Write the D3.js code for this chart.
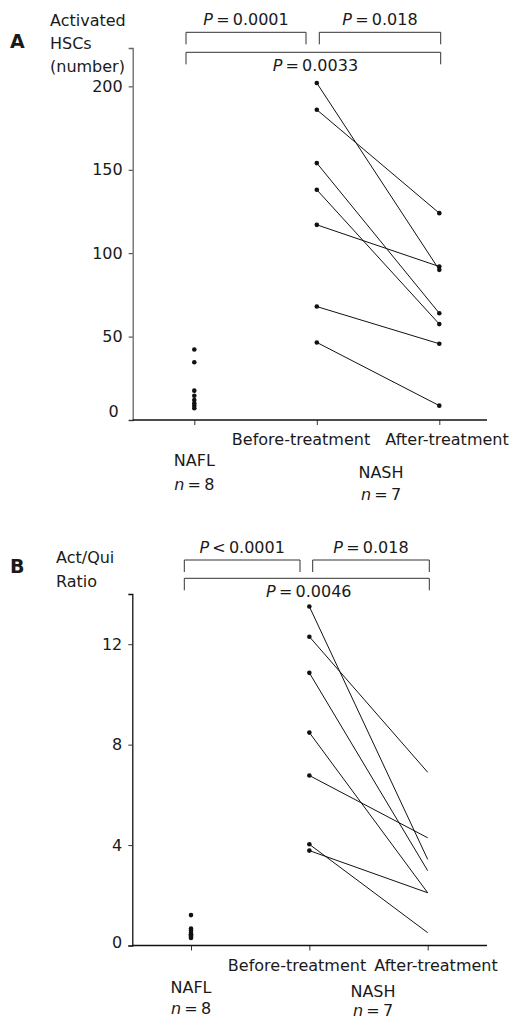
<!DOCTYPE html>
<html>
<head>
<meta charset="utf-8">
<script src="https://cdn.jsdelivr.net/npm/d3@7"></script>
<style>
  body { margin: 0; background: #fff; }
  svg text { font-family: "DejaVu Sans", sans-serif; fill: #1a1a1a; }
</style>
</head>
<body>
<svg id="chart" width="512" height="1021"></svg>
<script>
// groups on the x axis
const groups = ["NAFL", "Before", "After"];

// panel A : activated HSCs (number)
const naflA = [42.3, 34.6, 17.6, 14.5, 12, 10, 8.5, 7];
const beforeA = [202, 186, 154, 138, 117, 68, 46.5];
const afterA = [90, 124, 64, 57.5, 92, 45.7, 8.6];
const ticksA = [0, 50, 100, 150, 200];

// panel B : Act/Qui ratio
const naflB = [1.21, 0.68, 0.6, 0.5, 0.45, 0.4, 0.35, 0.3];
const beforeB = [13.5, 12.3, 10.86, 8.48, 6.77, 4.03, 3.78];
const afterB = [3.43, 6.9, 2.98, 2.1, 4.29, 0.51, 2.1];
const ticksB = [0, 4, 8, 12];

const FS = "16px";
const svg = d3.select("#chart");

function pText(g, x, y, sym, rest) {
    let t = g.append("text").attr("x", x).attr("y", y)
        .attr("text-anchor", "middle").style("font-size", FS);
    t.append("tspan").style("font-style", "italic").text(sym);
    t.append("tspan").text(rest);
    return t;
}

function bracket(g, x1, x2, y, h) {
    g.append("path")
        .attr("d", `M${x1},${y + h}V${y}H${x2}V${y + h}`)
        .attr("fill", "none").attr("stroke", "#333").attr("stroke-width", 1);
}

function drawPanel(opt) {
    let g = svg.append("g");
    let x = d3.scalePoint().domain(groups).range(opt.xr);
    let y = d3.scaleLinear().domain([0, opt.ymax]).range(opt.yr);
    const axX = opt.axisX;

    // y axis
    let yAxis = d3.axisLeft(y).tickValues(opt.ticks).tickSize(4).tickPadding(6);
    let ya = g.append("g").attr("transform", `translate(${axX},0)`).call(yAxis);
    ya.select(".domain").attr("stroke", opt.yColor).attr("stroke-width", 1.3);
    ya.selectAll(".tick line").attr("stroke", "#333");
    ya.selectAll(".tick text").style("font-size", FS).attr("fill", "#1a1a1a")
        .style("font-family", "\"DejaVu Sans\", sans-serif");
    ya.selectAll(".tick").filter(d => d === 0).select("text")
        .attr("dy", opt.zeroDy).attr("x", opt.zeroDx);

    // x axis
    let xAxis = d3.axisBottom(x).tickSize(5).tickFormat("").tickSizeOuter(0);
    let xa = g.append("g").attr("transform", `translate(0,${opt.yr[0]})`).call(xAxis);
    xa.select(".domain").remove();
    xa.selectAll(".tick line").attr("stroke", "#333");
    g.append("line").attr("x1", axX).attr("x2", 487)
        .attr("y1", opt.yr[0]).attr("y2", opt.yr[0])
        .attr("stroke", "#111").attr("stroke-width", 1.3);

    // paired lines
    g.selectAll(".pair").data(opt.before).join("line")
        .attr("x1", x("Before")).attr("y1", d => y(d))
        .attr("x2", x("After")).attr("y2", (d, i) => y(opt.after[i]))
        .attr("stroke", "#111").attr("stroke-width", 1);

    // dots
    g.selectAll(".nafl").data(opt.nafl).join("circle")
        .attr("cx", x("NAFL")).attr("cy", d => y(d)).attr("r", 2.3).attr("fill", "#111");
    g.selectAll(".bef").data(opt.before).join("circle")
        .attr("cx", x("Before")).attr("cy", d => y(d)).attr("r", 2.3).attr("fill", "#111");
    if (opt.afterDots) {
        g.selectAll(".aft").data(opt.after).join("circle")
            .attr("cx", x("After")).attr("cy", d => y(d)).attr("r", 2.3).attr("fill", "#111");
    }

    // category labels
    const base = opt.yr[0];
    g.append("text").attr("x", opt.befX).attr("y", base + opt.l1).attr("text-anchor", "middle")
        .style("font-size", FS).text("Before-treatment");
    g.append("text").attr("x", opt.aftX).attr("y", base + opt.l1).attr("text-anchor", "middle")
        .style("font-size", FS).text("After-treatment");
    g.append("text").attr("x", x("NAFL")).attr("y", base + opt.l2).attr("text-anchor", "middle")
        .style("font-size", FS).text("NAFL");
    pText(g, x("NAFL"), base + opt.l2 + opt.nStep, "n", "\u2009=\u20098");
    g.append("text").attr("x", opt.nashX).attr("y", base + opt.l3).attr("text-anchor", "middle")
        .style("font-size", FS).text("NASH");
    pText(g, opt.nashX, base + opt.l3 + opt.nStep - 2, "n", "\u2009=\u20097");

    // panel letter and y title
    g.append("text").attr("x", 10).attr("y", opt.letterY).style("font-size", "19px")
        .style("font-weight", "bold").text(opt.letter);
    opt.title.forEach((s, i) => {
        g.append("text").attr("x", opt.titleX).attr("y", opt.titleY + i * opt.titleStep)
            .style("font-size", FS).text(s);
    });

    // significance brackets
    const b = opt.br;
    bracket(g, b.x1, b.x2, b.y1, 12);
    bracket(g, b.x3, b.x4, b.y1, 12);
    bracket(g, b.x1, b.x4, b.y2, 12);
    pText(g, (b.x1 + b.x2) / 2, b.y1 - 7, "P", opt.p[0]);
    pText(g, (b.x3 + b.x4) / 2, b.y1 - 7, "P", opt.p[1]);
    pText(g, (b.x1 + b.x4) / 2 + 2, b.y2 + 19, "P", opt.p[2]);
}

drawPanel({
    xr: [194.3, 439.3], yr: [420, 48], ymax: 223, axisX: 132.7, ticks: ticksA,
    yColor: "#666", zeroDy: "-0.2em", zeroDx: -14,
    nafl: naflA, before: beforeA, after: afterA, afterDots: true,
    befX: 301, aftX: 447, nashX: 381, l1: 25, l2: 46, l3: 58, nStep: 24,
    letter: "A", letterY: 48, title: ["Activated", "HSCs", "(number)"],
    titleX: 50, titleY: 26, titleStep: 23,
    br: { x1: 186, x2: 306, x3: 319.3, x4: 440.7, y1: 32.3, y2: 52.3 },
    p: ["\u2009=\u20090.0001", "\u2009=\u20090.018", "\u2009=\u20090.0033"]
});

drawPanel({
    xr: [191, 427.7], yr: [945.5, 594], ymax: 14, axisX: 132.3, ticks: ticksB,
    yColor: "#111", zeroDy: "0.1em", zeroDx: -10,
    nafl: naflB, before: beforeB, after: afterB, afterDots: false,
    befX: 297, aftX: 436, nashX: 373, l1: 25, l2: 47, l3: 51, nStep: 21,
    letter: "B", letterY: 573, title: ["Act/Qui", "Ratio"],
    titleX: 56, titleY: 563, titleStep: 24,
    br: { x1: 184.3, x2: 300, x3: 312.7, x4: 429.3, y1: 560, y2: 578.3 },
    p: ["\u2009<\u20090.0001", "\u2009=\u20090.018", "\u2009=\u20090.0046"]
});
</script>
</body>
</html>
